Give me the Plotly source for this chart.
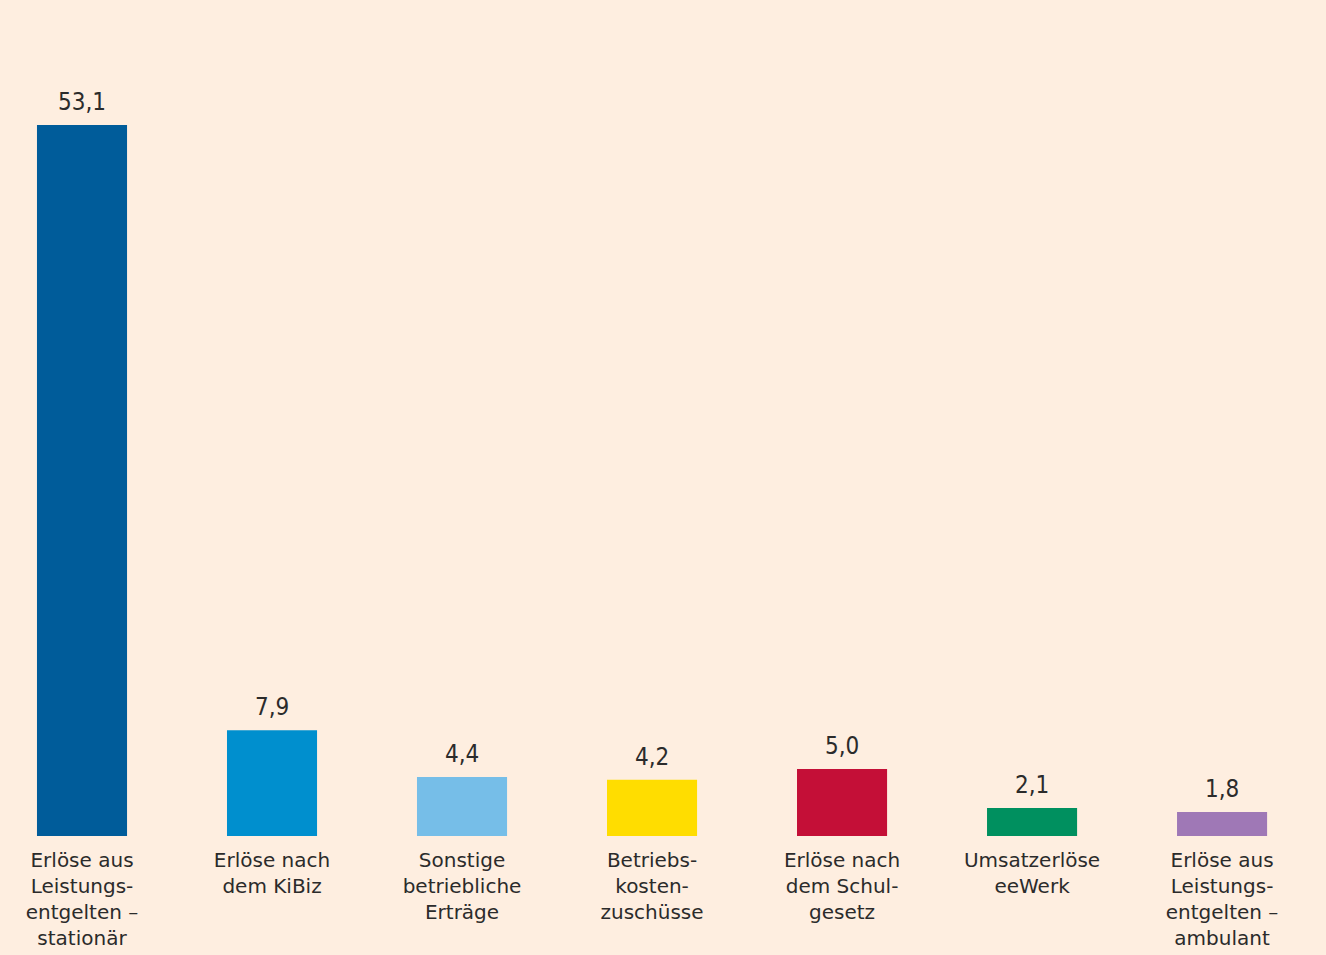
import plotly.graph_objects as go

categories = [
    "Erlöse aus<br>Leistungs-<br>entgelten –<br>stationär",
    "Erlöse nach<br>dem KiBiz",
    "Sonstige<br>betriebliche<br>Erträge",
    "Betriebs-<br>kosten-<br>zuschüsse",
    "Erlöse nach<br>dem Schul-<br>gesetz",
    "Umsatzerlöse<br>eeWerk",
    "Erlöse aus<br>Leistungs-<br>entgelten –<br>ambulant",
]
values = [53.1, 7.9, 4.4, 4.2, 5.0, 2.1, 1.8]
value_labels = ["53,1", "7,9", "4,4", "4,2", "5,0", "2,1", "1,8"]
colors = ["#005C9A", "#008FCE", "#76BEE8", "#FFDD00", "#C40F37", "#00905F", "#9F78B6"]

FONT = "DejaVu Sans, sans-serif"
VFONT = "DejaVu Sans Condensed, DejaVu Sans, sans-serif"
BG = "#FEEEE0"

xpos = list(range(len(categories)))

fig = go.Figure(go.Bar(
    x=xpos, y=values, marker=dict(color=colors, line=dict(width=0)),
    width=0.474, hoverinfo="skip",
))

for xi, v, t in zip(xpos, values, value_labels):
    fig.add_annotation(x=xi, y=v, text=t, showarrow=False, yanchor="bottom",
                       yshift=7, font=dict(family=VFONT, size=24, color="#2b2b2b"))

fig.update_layout(
    width=1326, height=955,
    margin=dict(l=0, r=0, t=0, b=119),
    paper_bgcolor=BG, plot_bgcolor=BG,
    showlegend=False,
    font=dict(family=FONT, size=20, color="#2b2b2b"),
    xaxis=dict(range=[-0.4316, 6.547], tickvals=xpos, ticktext=categories,
               showgrid=False, zeroline=False, showline=False, ticks="",
               ticklabelstandoff=10,
               tickfont=dict(family=FONT, size=20, color="#2b2b2b")),
    yaxis=dict(range=[0, 62.43], visible=False, showgrid=False, zeroline=False),
)

fig.write_html("out.html")
